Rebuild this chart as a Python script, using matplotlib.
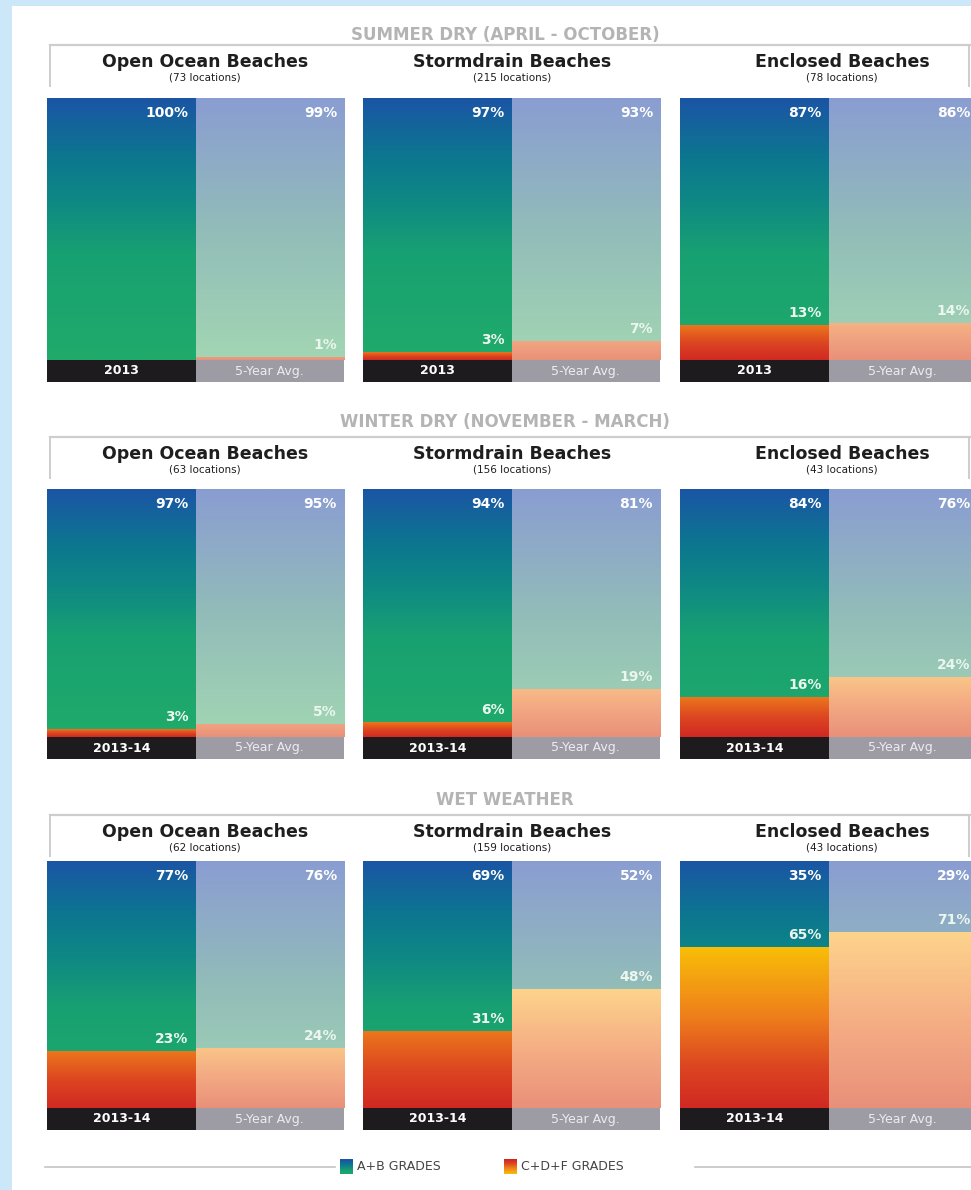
import matplotlib
matplotlib.use('Agg')
import matplotlib.pyplot as plt
import numpy as np
from matplotlib.colors import LinearSegmentedColormap, Normalize
from matplotlib.patches import Rectangle
from matplotlib.lines import Line2D

# chart data
sections = ['SUMMER DRY (APRIL - OCTOBER)', 'WINTER DRY (NOVEMBER - MARCH)', 'WET WEATHER']
beach_types = ['Open Ocean Beaches', 'Stormdrain Beaches', 'Enclosed Beaches']
locations = [[73, 215, 78], [63, 156, 43], [62, 159, 43]]
period_labels = ['2013', '2013-14', '2013-14']
avg_label = '5-Year Avg.'
ab_current = [[100, 97, 87], [97, 94, 84], [77, 69, 35]]
ab_avg = [[99, 93, 86], [95, 81, 76], [76, 52, 29]]
cdf_current = [[0, 3, 13], [3, 6, 16], [23, 31, 65]]
cdf_avg = [[1, 7, 14], [5, 19, 24], [24, 48, 71]]
legend_labels = ['A+B GRADES', 'C+D+F GRADES']

W, H = 971, 1190
fig = plt.figure(figsize=(W / 100, H / 100), dpi=100, facecolor='#cbe7f8')

def rect(x, y, w, h):
    return [x / W, 1 - (y + h) / H, w / W, h / H]

def fy(y):
    return 1 - y / H

# white page
fig.patches.append(Rectangle((12 / W, 0), 1, fy(6), transform=fig.transFigure,
                             facecolor='white', edgecolor='none', zorder=-10))

ab_cur_cmap = LinearSegmentedColormap.from_list('abc', [(0, '#20ab6b'), (0.4, '#18a171'),
                                                        (0.62, '#0e8785'), (0.78, '#0c7690'),
                                                        (1.0, '#1b55a5')])
ab_avg_cmap = LinearSegmentedColormap.from_list('aba', [(0, '#a2d6b3'), (0.5, '#92bcb9'),
                                                        (1.0, '#8a9dd2')])
cdf_cur_cmap = LinearSegmentedColormap.from_list('cdc', [(0, '#cf2323'), (0.3, '#dc4621'),
                                                         (0.6, '#ef801b'), (1.0, '#f8be08')])
cdf_avg_cmap = LinearSegmentedColormap.from_list('cda', ['#e9907a', '#f5ae84', '#fdd48c'])

col_x = [47, 363, 680]
col_w = 297
title_x = [205, 512, 842]
row_top = [98, 489, 861]
row_h = [262, 248, 247]
band_h = 22
sec_y = [35, 422, 800]
box_y = [45, 437, 815]

def grad(ax, x0, x1, y0, y1, cmap, lo, hi):
    if y1 - y0 <= 0:
        return
    vals = np.linspace(lo, hi, 256).reshape(-1, 1)
    ax.imshow(vals, cmap=cmap, norm=Normalize(0, 1), extent=(x0, x1, y0, y1),
              origin='lower', aspect='auto', interpolation='bilinear', zorder=1)

for r in range(3):
    fig.text(505 / W, fy(sec_y[r]), sections[r], ha='center', va='center',
             fontsize=12, fontweight='bold', color='#b4b4b4')
    fig.add_artist(Line2D([50 / W, 1], [fy(box_y[r])] * 2, color='#cdcdcd', lw=1.6))
    fig.add_artist(Line2D([50 / W] * 2, [fy(box_y[r]), fy(box_y[r] + 41)], color='#cdcdcd', lw=1.4))
    fig.add_artist(Line2D([969 / W] * 2, [fy(box_y[r]), fy(box_y[r] + 41)], color='#cdcdcd', lw=1.4))
    band = band_h / row_h[r] * 100
    for c in range(3):
        fig.text(title_x[c] / W, fy(box_y[r] + 17), beach_types[c], ha='center', va='center',
                 fontsize=12.5, fontweight='bold', color='#1e1e1e')
        fig.text(title_x[c] / W, fy(box_y[r] + 33), f'({locations[r][c]} locations)',
                 ha='center', va='center', fontsize=7.5, color='#1e1e1e')
        ax = fig.add_axes(rect(col_x[c], row_top[r], col_w, row_h[r] + band_h))
        ax.set_xlim(0, 2)
        ax.set_ylim(-band, 100)
        ax.axis('off')
        bc, ba = cdf_current[r][c], cdf_avg[r][c]
        # 2013 bar
        grad(ax, 0, 1, bc, 100, ab_cur_cmap, bc / 100, 1.0)
        grad(ax, 0, 1, 0, bc, cdf_cur_cmap, 0.05, max(0.55, bc / 65))
        # 5-year bar
        grad(ax, 1, 2, ba, 100, ab_avg_cmap, ba / 100, 1.0)
        grad(ax, 1, 2, 0, ba, cdf_avg_cmap, 0, min(1, 0.2 + ba / 40))
        ax.add_patch(Rectangle((0, -band), 1, band, facecolor='#1d1b1d', edgecolor='none', zorder=2))
        ax.add_patch(Rectangle((1, -band), 1, band, facecolor='#9d9ca4', edgecolor='none', zorder=2))
        ax.text(0.5, -band / 2, period_labels[r], ha='center', va='center', fontsize=9,
                fontweight='bold', color='white', zorder=3)
        ax.text(1.5, -band / 2, avg_label, ha='center', va='center', fontsize=9,
                color='#ececf0', zorder=3)
        for xr, ab, cd in [(1, ab_current[r][c], bc), (2, ab_avg[r][c], ba)]:
            ax.annotate(f'{ab}%', (xr, 100), xytext=(-5, -11), textcoords='offset points',
                        ha='right', va='center', fontsize=10, fontweight='bold',
                        color='white', zorder=4)
            if cd > 0:
                ax.annotate(f'{cd}%', (xr, cd), xytext=(-5, 9), textcoords='offset points',
                            ha='right', va='center', fontsize=10, fontweight='bold',
                            color='#eaf6ee', zorder=4)

# legend
ly = fy(1167)
fig.add_artist(Line2D([45 / W, 335 / W], [ly, ly], color='#c4c4c4', lw=1.2))
fig.add_artist(Line2D([695 / W, 1], [ly, ly], color='#c4c4c4', lw=1.2))
lax = fig.add_axes(rect(340, 1159, 13, 15))
lax.axis('off')
lax.imshow(np.linspace(0, 1, 64).reshape(-1, 1), cmap=ab_cur_cmap, aspect='auto',
           norm=Normalize(-0.2, 0.9), origin='lower')
fig.text(357 / W, ly, legend_labels[0], ha='left', va='center', fontsize=9, color='#444444')
lax2 = fig.add_axes(rect(504, 1159, 13, 15))
lax2.axis('off')
lax2.imshow(np.linspace(1, 0, 64).reshape(-1, 1), cmap=cdf_cur_cmap, aspect='auto',
            norm=Normalize(0, 1), origin='lower')
fig.text(521 / W, ly, legend_labels[1], ha='left', va='center', fontsize=9, color='#444444')

fig.savefig('out.png', dpi=100, facecolor=fig.get_facecolor())
